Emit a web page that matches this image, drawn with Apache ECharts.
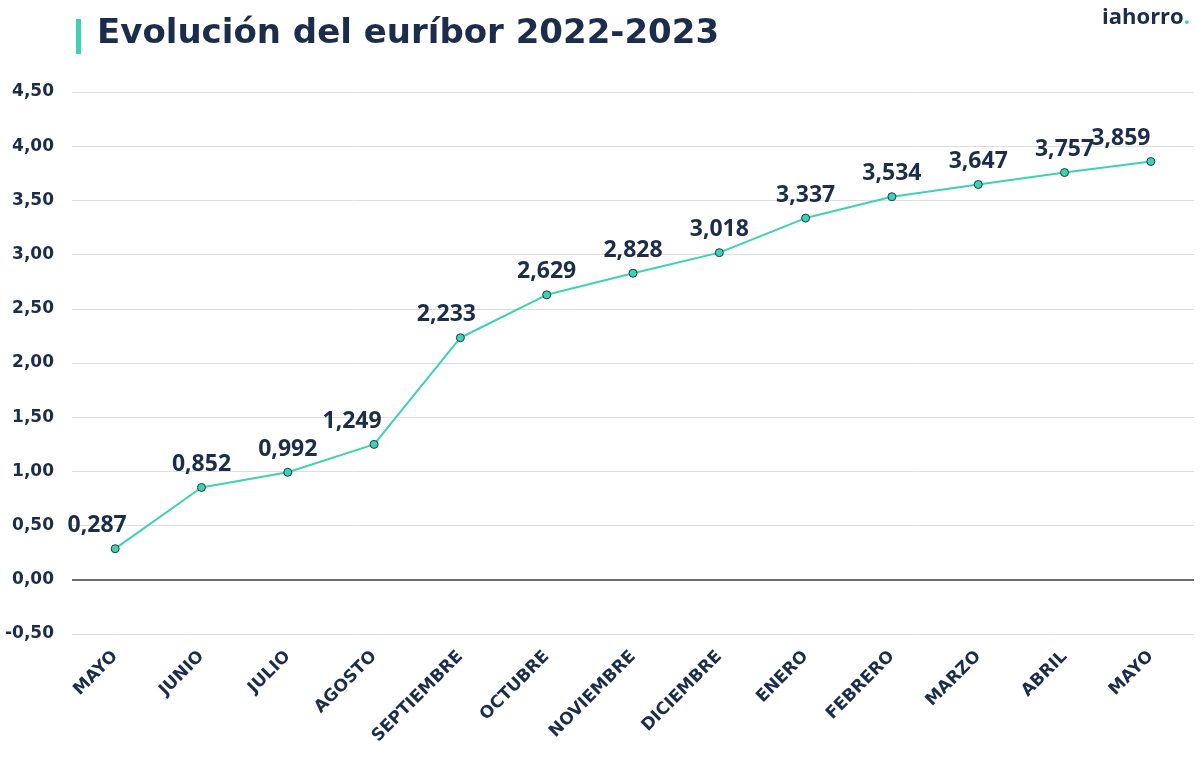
<!DOCTYPE html>
<html><head><meta charset="utf-8">
<script src="https://cdn.jsdelivr.net/npm/echarts@6/dist/echarts.min.js"></script>
<style>html,body{margin:0;padding:0;background:#fff}#c{width:1200px;height:770px}</style>
</head><body><div id="c"></div>
<script>
const months = ['MAYO','JUNIO','JULIO','AGOSTO','SEPTIEMBRE','OCTUBRE','NOVIEMBRE','DICIEMBRE','ENERO','FEBRERO','MARZO','ABRIL','MAYO'];
const euribor = [0.287,0.852,0.992,1.249,2.233,2.629,2.828,3.018,3.337,3.534,3.647,3.757,3.859];
const titleText = 'Evolución del euríbor 2022-2023';
const navy = '#1b2d4b', teal = '#3ed2b0';
const fmt = v => v.toFixed(2).replace('.', ',');
// horizontal label nudges (styling only)
const labelShift = {0:-18, 3:-22, 4:-14, 12:-30};
const seriesData = euribor.map((v,i)=> labelShift[i] ? {value:v, label:{offset:[labelShift[i],0]}} : v);
const chart = echarts.init(document.getElementById('c'));
chart.setOption({
  backgroundColor:'#fff',
  animation:false,
  graphic:[
    {type:'rect', shape:{x:76,y:19,width:5,height:35}, style:{fill:teal}},
    {type:'text', left:97, top:17, style:{text:titleText, fill:navy, font:'bold 34px "DejaVu Sans"'}},
    {type:'text', right:10, top:7, style:{text:'{a|iahorro}{b|.}', rich:{
      a:{fill:navy, font:'bold 22px "Open Sans"'}, b:{fill:teal, font:'bold 22px "Open Sans"'}}}}
  ],
  grid:{left:72, right:6, top:92, bottom:136, containLabel:false},
  xAxis:{type:'category', data:months, boundaryGap:true,
    axisLine:{show:false}, axisTick:{show:false},
    axisLabel:{rotate:45, color:navy, fontWeight:'bold', fontFamily:'DejaVu Sans', fontSize:17, margin:20, interval:0}},
  yAxis:{type:'value', min:-0.5, max:4.5, interval:0.5,
    axisLine:{show:false}, axisTick:{show:false},
    axisLabel:{formatter:fmt, color:navy, fontWeight:'bold', fontFamily:'DejaVu Sans', fontSize:17, margin:18},
    splitLine:{lineStyle:{color:'#dedede', width:1}}},
  series:[{type:'line', data:seriesData, symbol:'circle', symbolSize:8,
    lineStyle:{color:teal, width:2},
    itemStyle:{color:teal, borderColor:'#1f3b4a', borderWidth:1},
    label:{show:true, position:'top', distance:7, color:navy, fontWeight:'bold', fontFamily:'Open Sans', fontSize:23,
      formatter:p=>p.value.toFixed(3).replace('.', ',')},
    markLine:{silent:true, symbol:'none', label:{show:false},
      lineStyle:{color:'#6b6b6b', width:2, type:'solid'}, data:[{yAxis:0}]}
  }]
});
</script></body></html>
